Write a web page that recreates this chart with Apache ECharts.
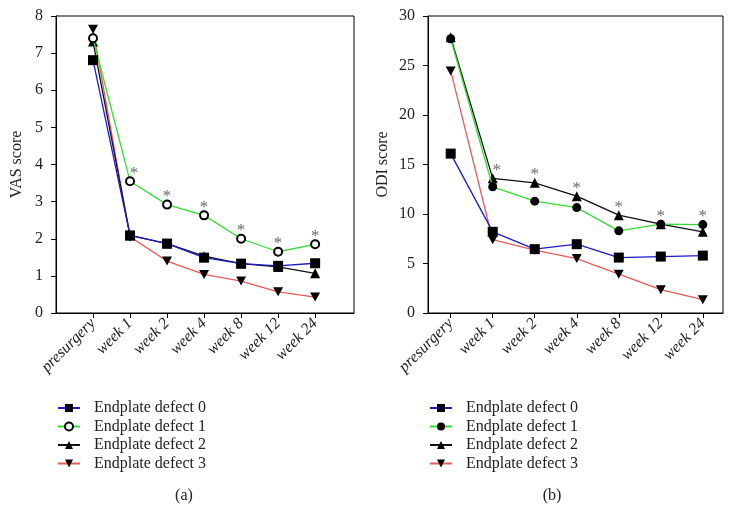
<!DOCTYPE html>
<html><head><meta charset="utf-8">
<script src="https://cdn.jsdelivr.net/npm/echarts@6/dist/echarts.min.js"></script>
<style>html,body{margin:0;padding:0;background:#fff}#c{width:735px;height:527px}</style>
</head><body><div id="c"></div>
<script>
var categories = ['presurgery','week 1','week 2','week 4','week 8','week 12','week 24'];
var seriesNames = ['Endplate defect 0','Endplate defect 1','Endplate defect 2','Endplate defect 3'];
// VAS (a)
var vas0 = [6.81, 2.09, 1.87, 1.49, 1.33, 1.27, 1.34];
var vas1 = [7.40, 3.55, 2.92, 2.63, 2.00, 1.65, 1.85];
var vas2 = [7.31, 2.09, 1.87, 1.53, 1.33, 1.24, 1.07];
var vas3 = [7.64, 2.05, 1.40, 1.04, 0.86, 0.57, 0.43];
// ODI (b)
var odi0 = [16.1, 8.2, 6.45, 6.95, 5.6, 5.7, 5.8];
var odi1 = [27.7, 12.75, 11.3, 10.65, 8.3, 8.97, 8.93];
var odi2 = [27.85, 13.6, 13.15, 11.8, 9.88, 8.97, 8.2];
var odi3 = [24.45, 7.4, 6.35, 5.5, 3.92, 2.36, 1.35];
var vasTicks = [0,1,2,3,4,5,6,7,8];
var odiTicks = [0,5,10,15,20,25,30];
var significant = [false, true, true, true, true, true, true];

var font = 'Liberation Serif';
var lineColors = ['#1a1acc', '#33dd33', '#111111', '#e85a5a'];
var downTri = 'path://M0,0 L10,0 L5,9 Z';

function pts(arr){ return arr.map(function(v,i){ return [i, v]; }); }

function makeSeries(gridIdx, data, suffix, circleSym){
  var syms = ['rect', circleSym, 'triangle', downTri];
  var sizes = [10, circleSym==='emptyCircle' ? 8 : 9, 10, 10];
  var order = [3,2,1,0];
  return order.map(function(k){
    return {
      type: 'line', name: seriesNames[k] + suffix,
      xAxisIndex: gridIdx, yAxisIndex: gridIdx,
      data: pts(data[k]),
      symbol: syms[k], symbolSize: sizes[k], symbolKeepAspect: true,
      showAllSymbol: true,
      lineStyle: { color: lineColors[k], width: 1.3 },
      itemStyle: k===1 && circleSym==='emptyCircle'
        ? { color: '#000', borderColor: '#000', borderWidth: 1.8 }
        : { color: '#000' },
      z: 10 + (4-k),
      animation: false,
      emphasis: { disabled: true }
    };
  });
}

function starSeries(gridIdx, a, b){
  var d = a.map(function(v,i){ return significant[i] ? [i, Math.max(v, b[i])] : null; }).filter(function(x){return x;});
  return {
    type: 'scatter', xAxisIndex: gridIdx, yAxisIndex: gridIdx,
    data: d.map(function(p){ return { value: p, label: { offset: [p[0]===1 ? 4 : 0, 1] } }; }),
    symbol: 'circle', symbolSize: 1, itemStyle: { color: 'transparent' },
    label: { show: true, formatter: '*', position: 'top', distance: 0, color: '#444', fontFamily: font, fontSize: 17 },
    silent: true, animation: false, z: 30
  };
}

function xAxisCfg(gridIdx, min, max){
  var idx = categories.map(function(c,i){return i;});
  return {
    type: 'value', gridIndex: gridIdx, min: min, max: max,
    splitLine: { show: false },
    axisLine: { onZero: false, lineStyle: { color: '#000', width: 1 } },
    axisTick: { show: true, length: 5, customValues: idx, lineStyle: { color: '#000' } },
    axisLabel: { customValues: idx, rotate: 45, margin: 8, fontFamily: font, fontStyle: 'italic', fontSize: 16, color: '#222',
      formatter: function(v){ return categories[Math.round(v)] || ''; } }
  };
}
function yAxisCfg(gridIdx, name, ticks, gap){
  return {
    type: 'value', gridIndex: gridIdx, min: ticks[0], max: ticks[ticks.length-1], interval: ticks[1]-ticks[0],
    name: name, nameLocation: 'middle', nameGap: gap, nameRotate: 90,
    nameTextStyle: { fontFamily: font, fontSize: 16, color: '#222' },
    splitLine: { show: false },
    axisLine: { show: true, onZero: false, lineStyle: { color: '#000', width: 1 } },
    axisTick: { show: true, length: 5, lineStyle: { color: '#000' } },
    axisLabel: { margin: 13, fontFamily: font, fontSize: 16, color: '#222' }
  };
}

function legendCfg(left, suffix){
  return {
    orient: 'vertical', left: left, top: 395,
    itemWidth: 22, itemHeight: 10, itemGap: 2.5,
    data: seriesNames.map(function(n){ return n + suffix; }),
    formatter: function(n){ return n.replace(/\u200b/g, ''); },
    textStyle: { fontFamily: font, fontSize: 16, color: '#222', padding: [0,0,0,9] },
    selectedMode: false
  };
}

var chart = echarts.init(document.getElementById('c'));
var suffixB = '\u200b';
chart.setOption({
  backgroundColor: '#fff',
  animation: false,
  grid: [
    { left: 56, top: 16, width: 298, height: 297, show: true, borderColor: '#000', borderWidth: 1, backgroundColor: 'transparent' },
    { left: 428, top: 16, width: 295, height: 297, show: true, borderColor: '#000', borderWidth: 1, backgroundColor: 'transparent' }
  ],
  xAxis: [ xAxisCfg(0, -1, 7.05), xAxisCfg(1, -0.54, 6.48) ],
  yAxis: [ yAxisCfg(0, 'VAS score', vasTicks, 31), yAxisCfg(1, 'ODI score', odiTicks, 37) ],
  legend: [ legendCfg(52, ''), legendCfg(424, suffixB) ],
  title: [
    { text: '(a)', left: 179, top: 483, textAlign: 'center', textStyle: { fontFamily: font, fontSize: 16, fontWeight: 'normal', color: '#222' } },
    { text: '(b)', left: 547, top: 483, textAlign: 'center', textStyle: { fontFamily: font, fontSize: 16, fontWeight: 'normal', color: '#222' } }
  ],
  series: [].concat(
    makeSeries(0, [vas0, vas1, vas2, vas3], '', 'emptyCircle'),
    makeSeries(1, [odi0, odi1, odi2, odi3], suffixB, 'circle'),
    [ starSeries(0, vas1, vas1), starSeries(1, odi1, odi2) ]
  )
});
</script></body></html>
